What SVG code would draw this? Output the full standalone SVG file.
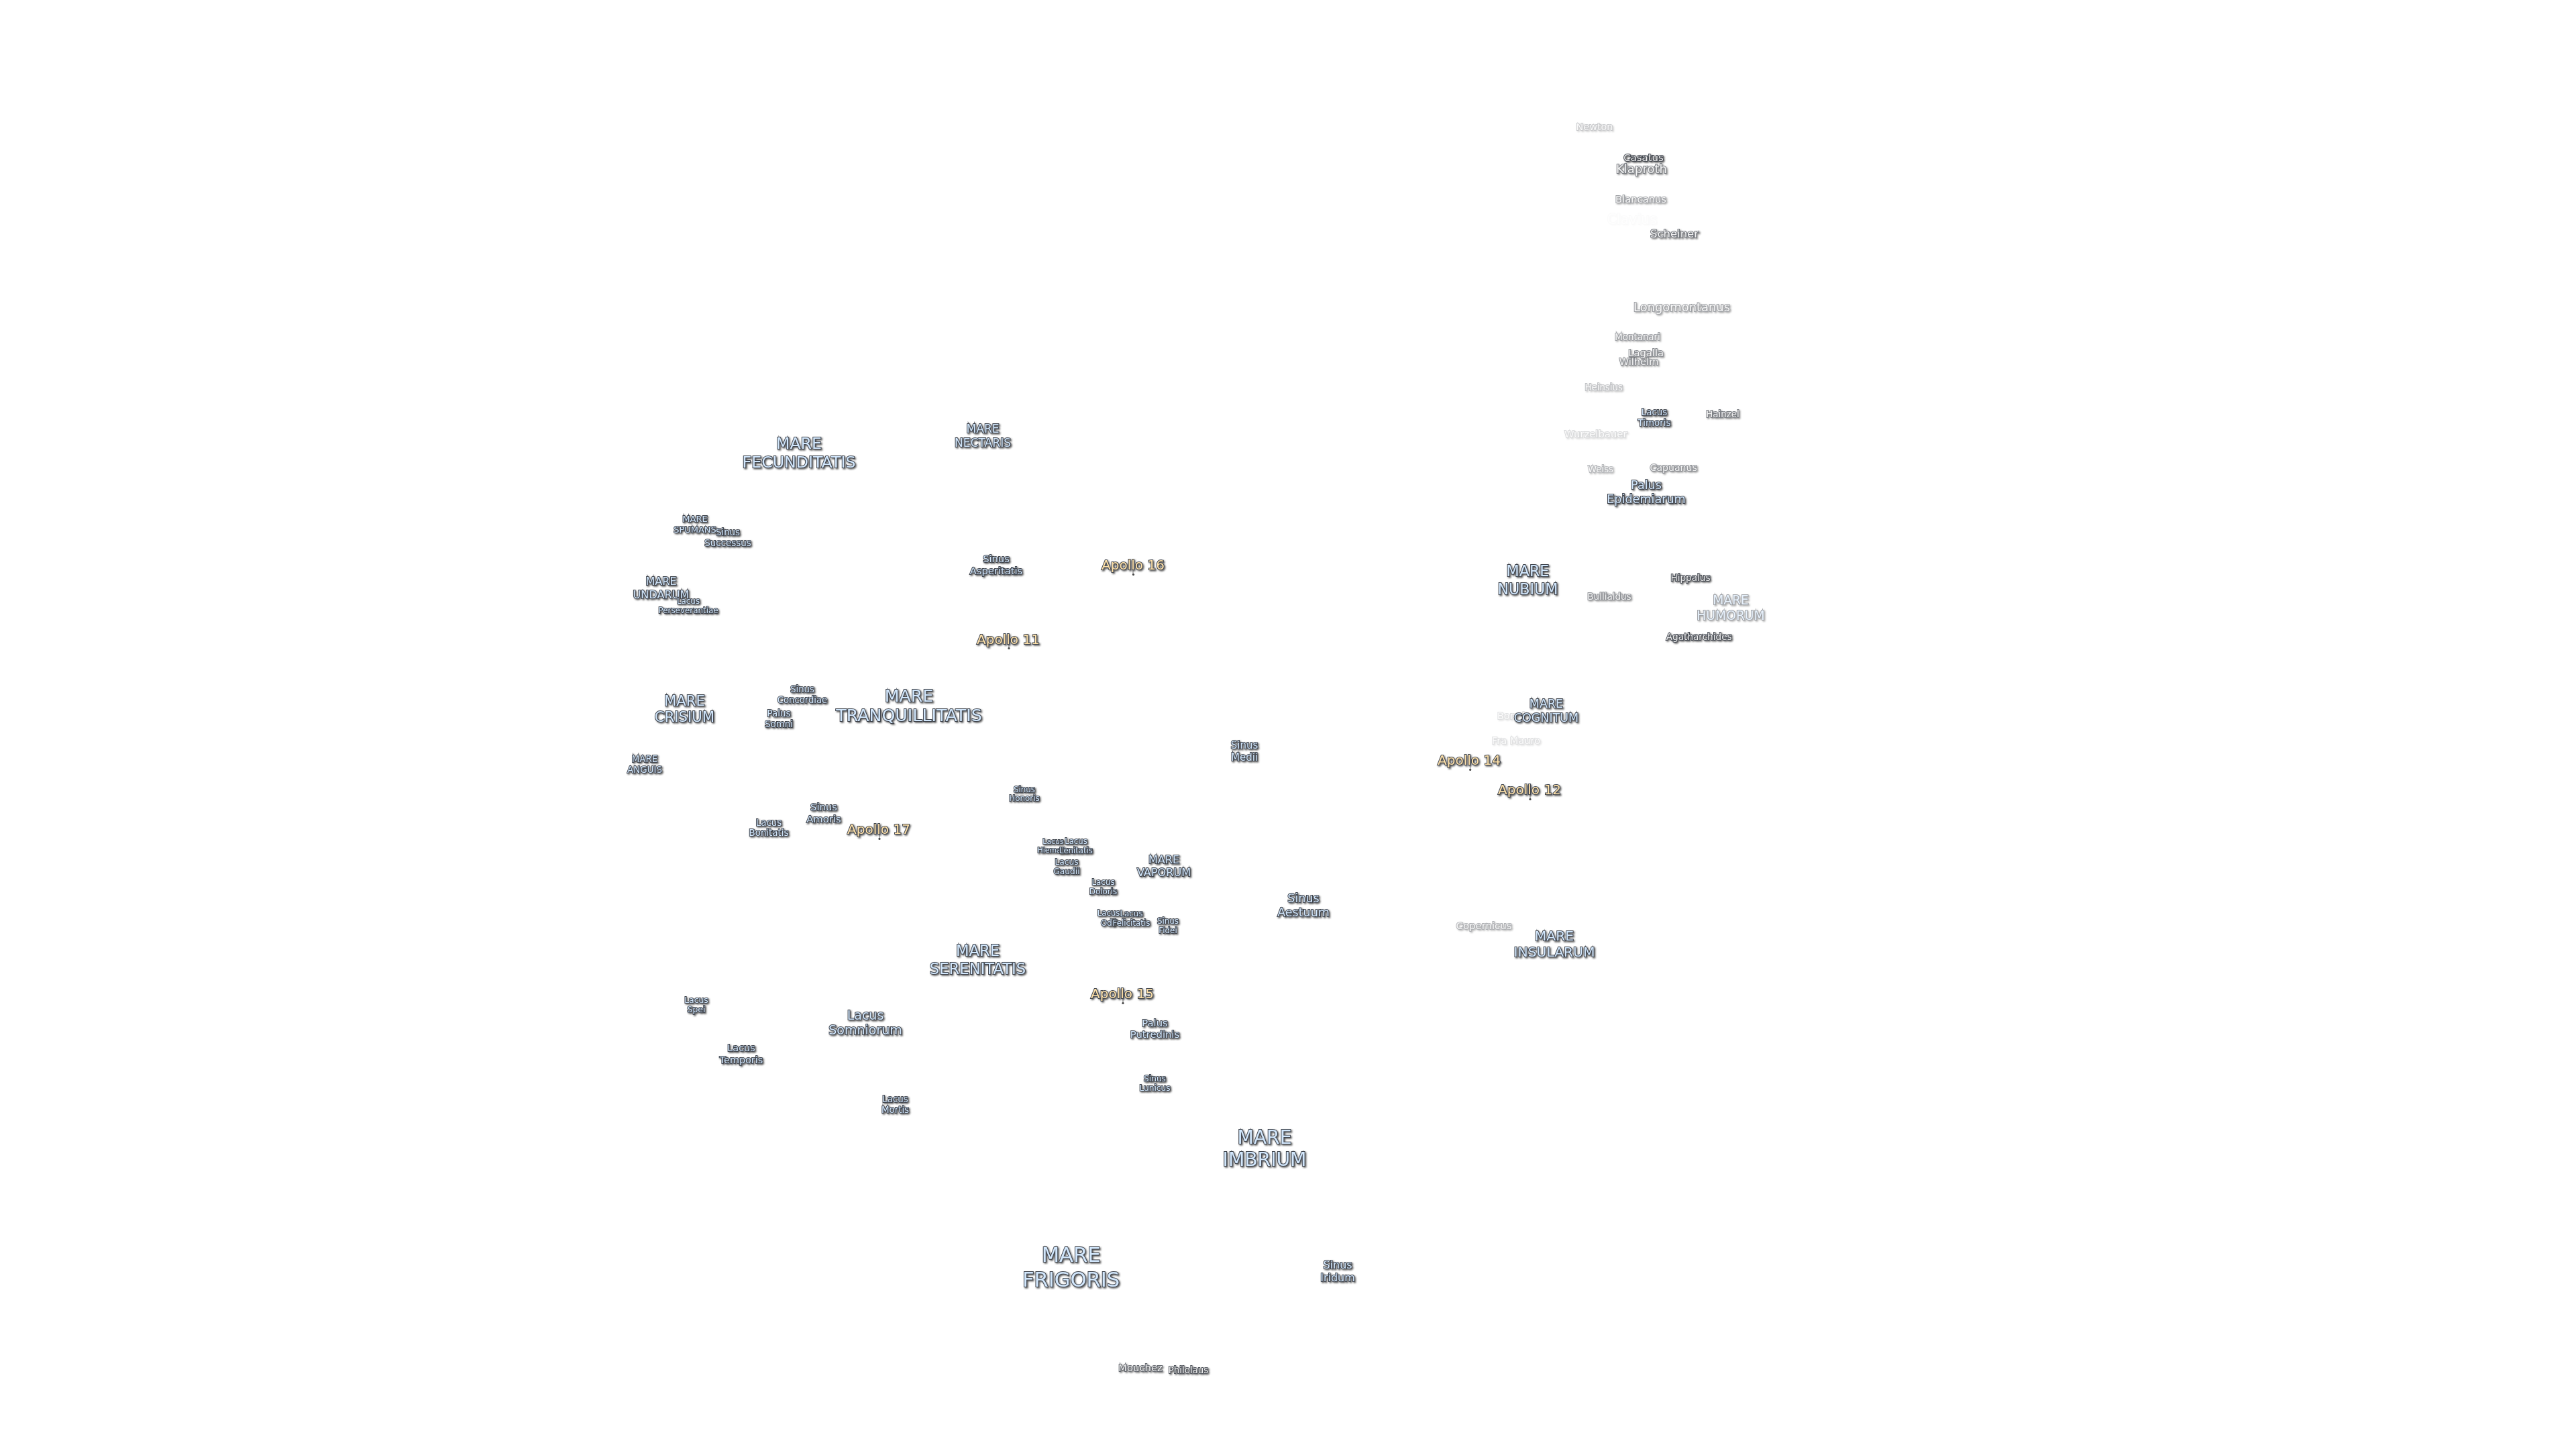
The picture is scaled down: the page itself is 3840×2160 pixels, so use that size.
<svg xmlns="http://www.w3.org/2000/svg" width="3840" height="2160" viewBox="0 0 3840 2160">
<style>
text{font-family:"DejaVu Sans",sans-serif;text-anchor:middle;stroke:#40454e;stroke-width:2;stroke-linejoin:miter;stroke-miterlimit:10;paint-order:stroke;filter:url(#halo)}
.m text{fill:#d2e7fc}
.a text{fill:#ffe2aa}
.c text{fill:#f0f0f0}
.d{fill:#4a4a4a}
#connectors line{stroke:#555;stroke-width:.8}
</style>
<defs>
<filter id="halo" x="-15%" y="-30%" width="130%" height="160%">
<feDropShadow dx="1.6" dy="1.6" stdDeviation=".8" flood-color="#333" flood-opacity=".8" result="s"/>
<feGaussianBlur in="s" stdDeviation=".25"/>
</filter>
</defs>
<rect width="3840" height="2160" fill="#fff"/>
<g transform="translate(0,-1.6)">
<g id="connectors">
<line x1="1689" y1="850" x2="1689" y2="857"/>
<line x1="1504" y1="961" x2="1504" y2="967"/>
<line x1="1311" y1="1244" x2="1311" y2="1251"/>
<line x1="1674" y1="1489" x2="1674" y2="1496"/>
<line x1="2191.5" y1="1141" x2="2191.5" y2="1148"/>
<line x1="2281" y1="1185" x2="2281" y2="1192"/>
</g>
<g id="mare-fecunditatis" class="m"><text font-size="23.7"><tspan x="1191" y="671">MARE</tspan><tspan x="1191" y="699">FECUNDITATIS</tspan></text></g>
<g id="mare-nectaris" class="m"><text font-size="17.1"><tspan x="1465" y="647">MARE</tspan><tspan x="1465" y="668">NECTARIS</tspan></text></g>
<g id="mare-spumans" class="m"><text font-size="13"><tspan x="1036" y="780">MARE</tspan><tspan x="1036" y="796">SPUMANS</tspan></text></g>
<g id="sinus-successus" class="m"><text font-size="13.4"><tspan x="1085" y="800">Sinus</tspan><tspan x="1085" y="815.5">Successus</tspan></text></g>
<g id="sinus-asperitatis" class="m"><text font-size="14.7"><tspan x="1485" y="840">Sinus</tspan><tspan x="1485" y="858">Asperitatis</tspan></text></g>
<g id="apollo-16" class="a"><text font-size="20" x="1689" y="851">Apollo 16</text><circle class="d" cx="1689.5" cy="858" r="1.6"/></g>
<g id="mare-undarum" class="m"><text font-size="16.1"><tspan x="985.5" y="874">MARE</tspan><tspan x="985.5" y="894">UNDARUM</tspan></text></g>
<g id="lacus-perseverantiae" class="m"><text font-size="11.9"><tspan x="1026" y="902">Lacus</tspan><tspan x="1026" y="916">Perseverantiae</tspan></text></g>
<g id="apollo-11" class="a"><text font-size="20" x="1503" y="962">Apollo 11</text><circle class="d" cx="1504" cy="968" r="1.6"/></g>
<g id="mare-crisium" class="m"><text font-size="21.2"><tspan x="1020.5" y="1053.5">MARE</tspan><tspan x="1020.5" y="1078">CRISIUM</tspan></text></g>
<g id="sinus-concordiae" class="m"><text font-size="13.2"><tspan x="1196" y="1034">Sinus</tspan><tspan x="1196" y="1050">Concordiae</tspan></text></g>
<g id="palus-somni" class="m"><text font-size="13.4"><tspan x="1161" y="1070">Palus</tspan><tspan x="1161" y="1086">Somni</tspan></text></g>
<g id="mare-tranquillitatis" class="m"><text font-size="25.3"><tspan x="1355" y="1048">MARE</tspan><tspan x="1355" y="1077">TRANQUILLITATIS</tspan></text></g>
<g id="mare-anguis" class="m"><text font-size="13.4"><tspan x="961" y="1138">MARE</tspan><tspan x="961" y="1154">ANGUIS</tspan></text></g>
<g id="sinus-honoris" class="m"><text font-size="11.9"><tspan x="1527" y="1183">Sinus</tspan><tspan x="1527" y="1196">Honoris</tspan></text></g>
<g id="sinus-amoris" class="m"><text font-size="14.8"><tspan x="1228" y="1210">Sinus</tspan><tspan x="1228" y="1228">Amoris</tspan></text></g>
<g id="lacus-bonitatis" class="m"><text font-size="13.4"><tspan x="1146" y="1232.5">Lacus</tspan><tspan x="1146" y="1248">Bonitatis</tspan></text></g>
<g id="apollo-17" class="a"><text font-size="20" x="1310" y="1245">Apollo 17</text><circle class="d" cx="1311" cy="1252" r="1.6"/></g>
<g id="lacus-hiemalis" class="m"><text font-size="10.9"><tspan x="1570" y="1259.5">Lacus</tspan><tspan x="1570" y="1273">Hiemalis</tspan></text></g>
<g id="lacus-lenitatis" class="m"><text font-size="11.7"><tspan x="1604" y="1259.5">Lacus</tspan><tspan x="1604" y="1274">Lenitatis</tspan></text></g>
<g id="lacus-gaudii" class="m"><text font-size="12.2"><tspan x="1590" y="1291">Lacus</tspan><tspan x="1590" y="1305">Gaudii</tspan></text></g>
<g id="lacus-doloris" class="m"><text font-size="11.9"><tspan x="1644.5" y="1321">Lacus</tspan><tspan x="1644.5" y="1335">Doloris</tspan></text></g>
<g id="mare-vaporum" class="m"><text font-size="16.1"><tspan x="1735" y="1289">MARE</tspan><tspan x="1735" y="1308">VAPORUM</tspan></text></g>
<g id="lacus-odii" class="m"><text font-size="11.7"><tspan x="1652.6" y="1367">Lacus</tspan><tspan x="1652.6" y="1381.6">Odii</tspan></text></g>
<g id="lacus-felicitatis" class="m"><text font-size="11.9"><tspan x="1686.5" y="1367.5">Lacus</tspan><tspan x="1686.5" y="1381.6">Felicitatis</tspan></text></g>
<g id="sinus-fidei" class="m"><text font-size="11.9"><tspan x="1741" y="1379">Sinus</tspan><tspan x="1741" y="1393">Fidei</tspan></text></g>
<g id="mare-serenitatis" class="m"><text font-size="22.7"><tspan x="1457.5" y="1427">MARE</tspan><tspan x="1457.5" y="1453.5">SERENITATIS</tspan></text></g>
<g id="apollo-15" class="a"><text font-size="20" x="1673" y="1490">Apollo 15</text><circle class="d" cx="1674" cy="1497" r="1.6"/></g>
<g id="palus-putredinis" class="m"><text font-size="14.8"><tspan x="1721.5" y="1532">Palus</tspan><tspan x="1721.5" y="1549">Putredinis</tspan></text></g>
<g id="sinus-lunicus" class="m"><text font-size="12.2"><tspan x="1721.5" y="1614">Sinus</tspan><tspan x="1721.5" y="1628">Lunicus</tspan></text></g>
<g id="lacus-spei" class="m"><text font-size="12.4"><tspan x="1038" y="1497">Lacus</tspan><tspan x="1038" y="1511">Spei</tspan></text></g>
<g id="lacus-somniorum" class="m"><text font-size="19"><tspan x="1290" y="1522">Lacus</tspan><tspan x="1290" y="1544">Somniorum</tspan></text></g>
<g id="lacus-temporis" class="m"><text font-size="14.4"><tspan x="1105" y="1569">Lacus</tspan><tspan x="1105" y="1587">Temporis</tspan></text></g>
<g id="lacus-mortis" class="m"><text font-size="13.4"><tspan x="1334.5" y="1645">Lacus</tspan><tspan x="1334.5" y="1660.5">Mortis</tspan></text></g>
<g id="sinus-aestuum" class="m"><text font-size="17.5"><tspan x="1943" y="1347">Sinus</tspan><tspan x="1943" y="1368">Aestuum</tspan></text></g>
<g id="sinus-medii" class="m"><text font-size="15"><tspan x="1855" y="1118">Sinus</tspan><tspan x="1855" y="1136">Medii</tspan></text></g>
<g id="mare-imbrium" class="m"><text font-size="28.2"><tspan x="1885" y="1707">MARE</tspan><tspan x="1885" y="1740">IMBRIUM</tspan></text></g>
<g id="mare-frigoris" class="m"><text font-size="30.6"><tspan x="1596.6" y="1883">MARE</tspan><tspan x="1596.6" y="1920">FRIGORIS</tspan></text></g>
<g id="sinus-iridum" class="m"><text font-size="16"><tspan x="1994" y="1893">Sinus</tspan><tspan x="1994" y="1912">Iridum</tspan></text></g>
<g id="mouchez" class="c" opacity=".8"><text font-size="14.8" x="1700" y="2046">Mouchez</text></g>
<g id="philolaus" class="c" opacity=".9"><text font-size="13.4" x="1771.5" y="2049">Philolaus</text></g>
<g id="newton" class="c" opacity=".28"><text font-size="14.4" x="2377" y="196">Newton</text></g>
<g id="casatus" class="c"><text font-size="14.9" x="2450" y="242">Casatus</text></g>
<g id="klaproth" class="c" opacity=".7"><text font-size="18.1" x="2447" y="260">Klaproth</text></g>
<g id="blancanus" class="c" opacity=".5"><text font-size="14.7" x="2446" y="304">Blancanus</text></g>
<g id="clavius" class="c" opacity=".02"><text font-size="20.6" x="2432.7" y="336">Clavius</text></g>
<g id="scheiner" class="c" opacity=".75"><text font-size="16.5" x="2496" y="356">Scheiner</text></g>
<g id="longomontanus" class="c" opacity=".5"><text font-size="17.9" x="2507" y="466">Longomontanus</text></g>
<g id="montanari" class="c" opacity=".5"><text font-size="13.4" x="2441" y="509">Montanari</text></g>
<g id="lagalla" class="c" opacity=".6"><text font-size="14.7" x="2453.7" y="533">Lagalla</text></g>
<g id="wilhelm" class="c" opacity=".6"><text font-size="14.6" x="2443" y="546">Wilhelm</text></g>
<g id="heinsius" class="c" opacity=".32"><text font-size="13.3" x="2390.7" y="584">Heinsius</text></g>
<g id="lacus-timoris" class="m"><text font-size="13.4"><tspan x="2466" y="620.7">Lacus</tspan><tspan x="2466" y="636.7">Timoris</tspan></text></g>
<g id="hainzel" class="c" opacity=".7"><text font-size="13.4" x="2568" y="624">Hainzel</text></g>
<g id="wurzelbauer" class="c" opacity=".2"><text font-size="14.8" x="2378.7" y="654">Wurzelbauer</text></g>
<g id="weiss" class="c" opacity=".38"><text font-size="13.3" x="2386" y="706">Weiss</text></g>
<g id="capuanus" class="c" opacity=".6"><text font-size="14.1" x="2494.7" y="704">Capuanus</text></g>
<g id="palus-epidemiarum" class="m"><text font-size="17.6"><tspan x="2454" y="731">Palus</tspan><tspan x="2454" y="751.7">Epidemiarum</tspan></text></g>
<g id="mare-nubium" class="m"><text font-size="22.2"><tspan x="2277.5" y="861">MARE</tspan><tspan x="2277.5" y="888">NUBIUM</tspan></text></g>
<g id="hippalus" class="c" opacity=".95"><text font-size="13.6" x="2520" y="868">Hippalus</text></g>
<g id="bullialdus" class="c" opacity=".6"><text font-size="13.5" x="2399" y="896">Bullialdus</text></g>
<g id="mare-humorum" class="m" opacity=".5"><text font-size="18.7"><tspan x="2580" y="903">MARE</tspan><tspan x="2580" y="925.7">HUMORUM</tspan></text></g>
<g id="agatharchides" class="c" opacity=".95"><text font-size="13.6" x="2532.7" y="955.7">Agatharchides</text></g>
<g id="bonpland" class="c" opacity=".16"><text font-size="14.4" x="2266" y="1074">Bonpland</text></g>
<g id="mare-cognitum" class="m"><text font-size="17.5"><tspan x="2305" y="1056.7">MARE</tspan><tspan x="2305" y="1078">COGNITUM</tspan></text></g>
<g id="fra-mauro" class="c" opacity=".17"><text font-size="14.6" x="2260" y="1111">Fra Mauro</text></g>
<g id="apollo-14" class="a"><text font-size="20" x="2190" y="1141.7">Apollo 14</text><circle class="d" cx="2191.7" cy="1149" r="1.6"/></g>
<g id="apollo-12" class="a"><text font-size="20" x="2280" y="1186">Apollo 12</text><circle class="d" cx="2281" cy="1193" r="1.6"/></g>
<g id="copernicus" class="c" opacity=".42"><text font-size="14.9" x="2212" y="1386.7">Copernicus</text></g>
<g id="mare-insularum" class="m"><text font-size="20.3"><tspan x="2317" y="1404">MARE</tspan><tspan x="2317" y="1428">INSULARUM</tspan></text></g>
</g>
</svg>
